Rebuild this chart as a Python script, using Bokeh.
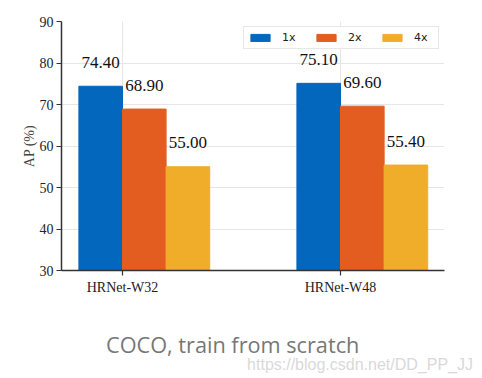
from bokeh.plotting import figure
from bokeh.layouts import column
from bokeh.models import ColumnDataSource, FixedTicker, Range1d, Legend, LegendItem, Div
from bokeh.transform import dodge
from bokeh.core.properties import value
from bokeh.embed import file_html
from bokeh.resources import INLINE

categories = ["HRNet-W32", "HRNet-W48"]
series_names = ["1x", "2x", "4x"]
ap_1x = [74.40, 75.10]
ap_2x = [68.90, 69.60]
ap_4x = [55.00, 55.40]
y_ticks = [30, 40, 50, 60, 70, 80, 90]
caption = "COCO, train from scratch"
watermark = "https://blog.csdn.net/DD_PP_JJ"

colors = ["#0467BE", "#E35D20", "#F0AD29"]
offsets = [-0.1, 0.1, 0.3]

xs = list(range(len(categories)))
src = ColumnDataSource(dict(x=xs, s1=ap_1x, s2=ap_2x, s3=ap_4x,
                            l1=["%.2f" % v for v in ap_1x],
                            l2=["%.2f" % v for v in ap_2x],
                            l3=["%.2f" % v for v in ap_4x]))

p = figure(width=474, height=300, output_backend="svg", toolbar_location=None,
           x_range=Range1d(-0.2798, 1.477), y_range=Range1d(30, 90),
           min_border_left=61, min_border_right=30, min_border_top=21, min_border_bottom=30)
p.outline_line_color = None
p.background_fill_color = "white"
p.border_fill_color = "white"

serif = "Liberation Serif"
items = []
for i, (col, lab) in enumerate(zip(["s1", "s2", "s3"], ["l1", "l2", "l3"])):
    r = p.vbar(x=dodge("x", offsets[i], range=p.x_range), top=col, bottom=30, width=0.2,
               source=src, fill_color=colors[i], line_color=colors[i])
    items.append(LegendItem(label=series_names[i], renderers=[r]))
    p.text(x=dodge("x", offsets[i], range=p.x_range), y=col, text=lab, source=src,
           text_align="center", text_baseline="alphabetic", y_offset=-24,
           text_font=value(serif), text_font_size="17px", text_color="#111111")

legend = Legend(items=items, orientation="horizontal", location="top_right",
                label_text_font="DejaVu Sans", label_text_font_size="11px",
                label_text_color="#222222",
                glyph_width=24, glyph_height=9, label_standoff=10, spacing=12,
                padding=4, margin=5, border_line_color="#d0d0d0", border_line_width=1,
                label_height=9)
p.add_layout(legend)

p.xaxis.ticker = FixedTicker(ticks=xs)
p.xaxis.major_label_overrides = {i: c for i, c in enumerate(categories)}
p.yaxis.ticker = FixedTicker(ticks=y_ticks)
for ax in (p.xaxis[0], p.yaxis[0]):
    ax.axis_line_color = "#333333"
    ax.axis_line_width = 1.5
    ax.major_tick_line_color = "#333333"
    ax.major_tick_line_width = 1.2
    ax.major_tick_in = 0
    ax.major_tick_out = 5
    ax.minor_tick_line_color = None
    ax.major_label_text_font = serif
    ax.major_label_text_font_size = "14px"
    ax.major_label_text_color = "#222222"
p.xaxis.major_label_standoff = 4
p.yaxis.major_label_standoff = 3
p.yaxis.axis_label = "AP (%)"
p.yaxis.axis_label_text_font = serif
p.yaxis.axis_label_text_font_size = "14px"
p.yaxis.axis_label_text_font_style = "normal"
p.yaxis.axis_label_standoff = 0

p.xgrid.grid_line_color = "#e6e6e6"
p.ygrid.grid_line_color = "#e6e6e6"

html = (
    '<div style="position:relative;width:474px;height:78px;margin:0;padding:0;">'
    '<span style="position:absolute;left:106px;top:34px;line-height:21px;white-space:nowrap;'
    'font-family:\'Open Sans\';font-size:21.7px;color:#777777;">' + caption + '</span>'
    '<span style="position:absolute;right:1px;top:57px;line-height:16px;white-space:nowrap;'
    'font-family:\'Liberation Sans\';font-size:16px;color:#d9d9d9;">' + watermark + '</span>'
    '</div>'
)
cap = Div(text=html, width=474, height=78, margin=(0, 0, 0, 0))

layout = column(p, cap, spacing=0)
open("out.html", "w").write(file_html(layout, INLINE))
